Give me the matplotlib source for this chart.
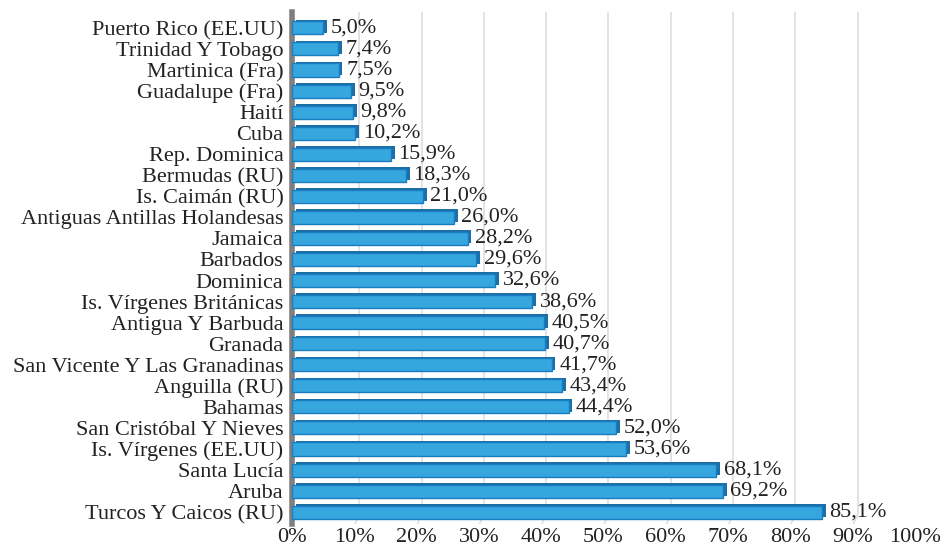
import matplotlib
matplotlib.use("Agg")
import matplotlib.pyplot as plt
import numpy as np

categories = ["Puerto Rico (EE.UU)", "Trinidad Y Tobago", "Martinica (Fra)", "Guadalupe (Fra)",
              "Haití", "Cuba", "Rep. Dominica", "Bermudas (RU)", "Is. Caimán (RU)",
              "Antiguas Antillas Holandesas", "Jamaica", "Barbados", "Dominica",
              "Is. Vírgenes Británicas", "Antigua Y Barbuda", "Granada",
              "San Vicente Y Las Granadinas", "Anguilla (RU)", "Bahamas",
              "San Cristóbal Y Nieves", "Is. Vírgenes (EE.UU)", "Santa Lucía", "Aruba",
              "Turcos Y Caicos (RU)"]
values = [5.0, 7.4, 7.5, 9.5, 9.8, 10.2, 15.9, 18.3, 21.0, 26.0, 28.2, 29.6, 32.6,
          38.6, 40.5, 40.7, 41.7, 43.4, 44.4, 52.0, 53.6, 68.1, 69.2, 85.1]
xticks = [0, 10, 20, 30, 40, 50, 60, 70, 80, 90, 100]

plt.rcParams['font.family'] = ['Liberation Serif', 'DejaVu Serif']

fig = plt.figure(figsize=(9.51, 5.49), dpi=100)
ax = fig.add_axes([0.307, 0.046, 0.655, 0.932])

y = np.arange(len(categories))
# gridlines
for t in xticks[1:]:
    ax.plot([t, t + 0.8], [len(categories) - 0.35, len(categories) - 0.9], color="#dedede", lw=1.2, zorder=0)
    ax.plot([t + 0.8, t + 0.8], [len(categories) - 0.9, -0.8], color="#dedede", lw=1.2, zorder=0)

# depth (back faces)
ax.barh(y - 0.08, values, left=0.6, height=0.62, color="#1c6fa6", edgecolor="none", zorder=2)
# front faces
ax.barh(y, values, height=0.62, color="#35a7de", edgecolor="#1a7cc0", linewidth=1.0, zorder=3)

for yi, v in zip(y, values):
    ax.text(v + 1.2, yi + 0.0, f"{v:.1f}%".replace(".", ","), va="center", ha="left",
            fontsize=16, color="#222222", zorder=4)

ax.set_xlim(0, 100)
ax.set_ylim(len(categories) - 0.45, -0.75)
ax.set_yticks(y)
ax.set_yticklabels(categories, fontsize=16, color="#222222")
ax.set_xticks(xticks)
ax.set_xticklabels([f"{t}%" for t in xticks], fontsize=16, color="#222222")
ax.tick_params(axis="y", length=0, pad=6)
ax.tick_params(axis="x", length=0, pad=3)
for s in ["top", "right", "bottom"]:
    ax.spines[s].set_visible(False)
ax.spines["left"].set_color("#7f7f7f")
ax.spines["left"].set_linewidth(4)

fig.savefig("out.png", dpi=100)
